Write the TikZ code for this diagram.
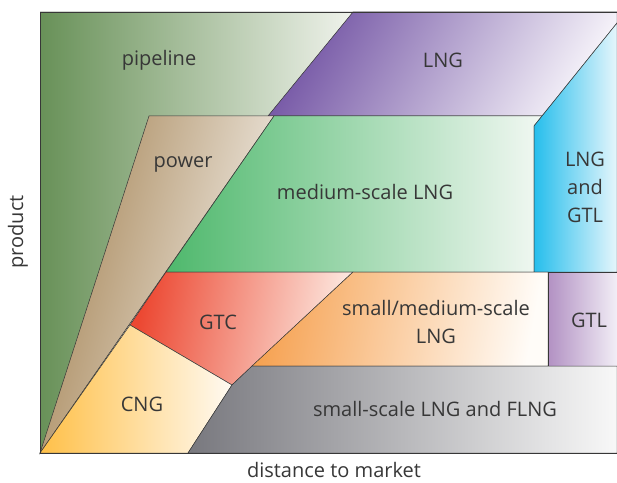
\documentclass[tikz,border=0pt]{standalone}
\usepackage{fontspec}
\setmainfont{Open Sans}
\usepackage{xcolor}

% Colours of the zones (dark end and light end)
\definecolor{pipeA}{RGB}{104,145,88}
\definecolor{pipeB}{RGB}{240,243,236}
\definecolor{lngA}{RGB}{118,88,166}
\definecolor{lngB}{RGB}{245,242,249}
\definecolor{powA}{RGB}{165,132,85}
\definecolor{powB}{RGB}{247,244,240}
\definecolor{medA}{RGB}{78,184,108}
\definecolor{medB}{RGB}{242,248,243}
\definecolor{cyanA}{RGB}{38,190,236}
\definecolor{cyanB}{RGB}{230,246,252}
\definecolor{gtcA}{RGB}{236,72,50}
\definecolor{gtcB}{RGB}{253,236,228}
\definecolor{cngA}{RGB}{255,192,72}
\definecolor{cngB}{RGB}{255,250,242}
\definecolor{smlA}{RGB}{246,162,82}
\definecolor{smlB}{RGB}{255,252,248}
\definecolor{gtlA}{RGB}{178,145,195}
\definecolor{gtlB}{RGB}{242,238,246}
\definecolor{greyA}{RGB}{120,120,126}
\definecolor{greyB}{RGB}{248,248,248}
\definecolor{ink}{RGB}{55,55,55}

\begin{document}
\begin{tikzpicture}[x=1pt, y=1pt,
    zone/.style={draw=ink, line width=0.5pt},
    tag/.style={text=ink, align=center, inner sep=0pt,
      font=\fontsize{20}{28}\selectfont}]
			\useasboundingbox (-40,-29) rectangle (577,453);

			% Corners of the chart
			\coordinate (O) at (0,0);
			\coordinate (TL) at (0,441);
			\coordinate (TR) at (577,441);
			\coordinate (BR) at (577,0);

			% Pipeline
			\fill[left color=pipeA, right color=pipeB]
				(O) -- (TL) -- (313,441) -- (228,337) -- (234,337) -- cycle;

			% LNG
			\draw[zone, left color=lngA, right color=lngB, shading angle=60]
				(313,441) -- (TR) -- (577,430) -- (502,337) -- (228,337) -- cycle;

			% Power
			\draw[zone, left color=powA, right color=powB, shading angle=75]
				(O) -- (109,337) -- (234,337) -- cycle;

			% Medium-scale LNG
			\draw[zone, left color=medA, right color=medB]
				(234,337) -- (502,337) -- (494,327) -- (494,181) -- (126,181) -- cycle;

			% LNG and GTL
			\draw[zone, left color=cyanA, right color=cyanB]
				(494,327) -- (577,430) -- (577,181) -- (494,181) -- cycle;

			% GTC
			\draw[zone, left color=gtcA, right color=gtcB, shading angle=80]
				(126,181) -- (313,181) -- (192,68) -- (90,128) -- cycle;

			% CNG
			\draw[zone, left color=cngA, right color=cngB]
				(O) -- (90,128) -- (192,68) -- (148,0) -- cycle;

			% Small/medium-scale LNG
			\draw[zone, left color=smlA, right color=smlB, shading angle=80]
				(313,181) -- (508,181) -- (508,87) -- (212,87) -- cycle;

			% GTL
			\draw[zone, left color=gtlA, right color=gtlB]
				(508,181) -- (577,181) -- (577,87) -- (508,87) -- cycle;

			% Small-scale LNG and FLNG
			\draw[zone, left color=greyA, right color=greyB]
				(212,87) -- (577,87) -- (BR) -- (148,0) -- (192,68) -- cycle;

			% Frame
			\draw[ink, line width=0.8pt] (O) rectangle (TR);

			% Labels
			\node[tag] (pipeline) at (119,393) {pipeline};
			\node[tag] (lng) at (403,393) {LNG};
			\node[tag] (power) at (143,289) {power};
			\node[tag] (medium) at (325,261) {medium-scale LNG};
			\node[tag] (lnggtl) at (545,266) {LNG\\and\\GTL};
			\node[tag] (gtc) at (178,131) {GTC};
			\node[tag] (small) at (396,131) {small/medium-scale\\LNG};
			\node[tag] (gtl) at (549,133) {GTL};
			\node[tag] (cng) at (102,49) {CNG};
			\node[tag] (flng) at (395,44) {small-scale LNG and FLNG};

			% Axis titles
			\node[tag] (xaxis) at (294,-17) {distance to market};
			\node[tag, rotate=90] (yaxis) at (-22,221) {product};

		\end{tikzpicture}
\end{document}
